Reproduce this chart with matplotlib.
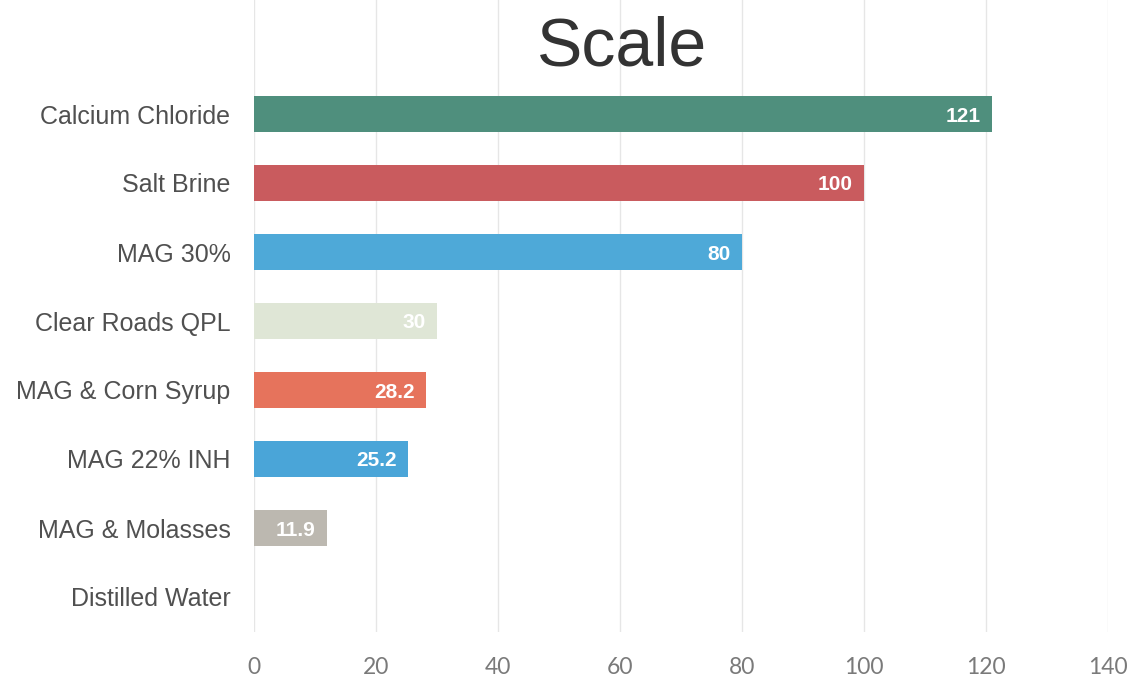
import matplotlib
matplotlib.use("Agg")
import matplotlib.pyplot as plt

categories = ["Calcium Chloride", "Salt Brine", "MAG 30%", "Clear Roads QPL",
              "MAG & Corn Syrup", "MAG 22% INH", "MAG & Molasses", "Distilled Water"]
values = [121, 100, 80, 30, 28.2, 25.2, 11.9, 0]
value_labels = ["121", "100", "80", "30", "28.2", "25.2", "11.9", ""]
colors = ["#4f8f7d", "#c95b5e", "#4ea9d8", "#dfe6d6", "#e6735c", "#4aa5d8", "#bcb8b0", "#ffffff"]
xticks = [0, 20, 40, 60, 80, 100, 120, 140]

fig = plt.figure(figsize=(11.31, 6.82), dpi=100)
W, H = 1131, 682
left, right = 254 / W, 1108 / W
bottom, top = 1 - 631.5 / H, 1.0
ax = fig.add_axes([left, bottom, right - left, top - bottom])

n = len(categories)
ypos = list(range(n))
ax.barh(ypos, values, height=0.52, color=colors, zorder=3)
ax.set_xlim(0, 140)
step = 69.0
ax.set_ylim(n - 0.5, -0.5 - 79.5 / step)

ax.set_xticks(xticks)
ax.set_xticklabels([str(t) for t in xticks], fontsize=16.5, color="#7a7a7a",
                   family=["Lato", "DejaVu Sans"], fontweight="normal")
ax.tick_params(axis="x", length=0, pad=18)
ax.set_yticks(ypos)
ax.set_yticklabels(categories, fontsize=18, color="#505050",
                   family=["Liberation Sans", "DejaVu Sans"])
ax.tick_params(axis="y", length=0, pad=17)
ax.grid(axis="x", color="#e6e6e6", linewidth=1, zorder=0)
ax.grid(axis="y", visible=False)
for s in ax.spines.values():
    s.set_visible(False)

for y, v, lab in zip(ypos, values, value_labels):
    if lab:
        ax.annotate(lab, xy=(v, y), xytext=(-8, 0), textcoords="offset points",
                    ha="right", va="center_baseline", color="white", fontsize=15,
                    fontweight="bold", family=["Liberation Sans", "DejaVu Sans"], zorder=4)

fig.text(622 / W, 1 - 48 / H, "Scale", ha="center", va="center", fontsize=49,
         color="#333333", family=["Liberation Sans", "DejaVu Sans"])

fig.savefig("out.png", dpi=100)
